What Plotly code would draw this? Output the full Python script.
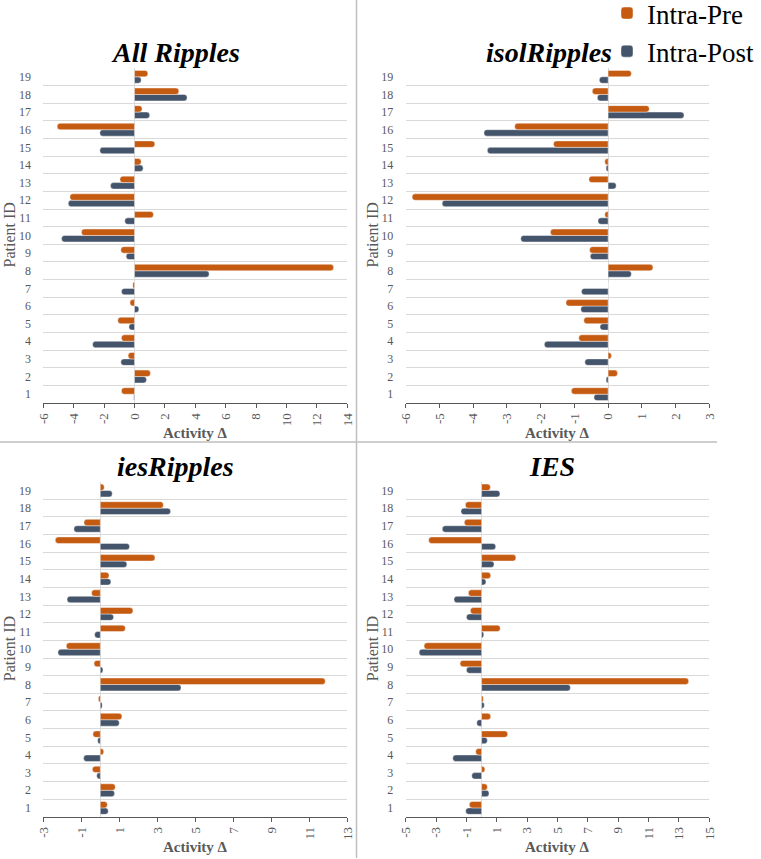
import plotly.graph_objects as go

W, H = 761, 859

patients = list(range(1, 20))

all_pre = [-0.86, 1.05, -0.42, -0.86, -1.10, -0.30, -0.11, 13.10, -0.90, -3.49,
           1.25, -4.25, -0.96, 0.44, 1.34, -5.09, 0.50, 2.92, 0.88]
all_post = [-0.05, 0.79, -0.90, -2.76, -0.37, 0.29, -0.86, 4.91, -0.55, -4.80,
            -0.64, -4.36, -1.58, 0.57, -2.28, -2.28, 1.00, 3.46, 0.44]

isol_pre = [-1.09, 0.28, 0.10, -0.87, -0.72, -1.25, 0.00, 1.33, -0.55, -1.71,
            -0.10, -5.81, -0.57, -0.10, -1.62, -2.77, 1.22, -0.47, 0.69]
isol_post = [-0.42, -0.06, -0.69, -1.89, -0.24, -0.81, -0.79, 0.69, -0.53, -2.59,
             -0.30, -4.92, 0.24, -0.06, -3.58, -3.68, 2.25, -0.32, -0.26]

iesrip_pre = [0.37, 0.79, -0.42, 0.18, -0.39, 1.14, -0.10, 11.84, -0.33, -1.79,
              1.32, 1.72, -0.46, 0.46, 2.88, -2.37, -0.86, 3.32, 0.21]
iesrip_post = [0.42, 0.75, -0.19, -0.88, -0.14, 1.00, 0.10, 4.25, 0.14, -2.23,
               -0.30, 0.70, -1.75, 0.56, 1.40, 1.54, -1.39, 3.70, 0.63]

ies_pre = [-0.81, 0.38, 0.22, -0.39, 1.72, 0.60, 0.11, 13.64, -1.42, -3.79,
           1.23, -0.74, -0.87, 0.60, 2.26, -3.49, -1.14, -1.07, 0.58]
ies_post = [-1.05, 0.49, -0.65, -1.90, 0.38, -0.32, 0.18, 5.85, -1.00, -4.12,
            0.14, -1.00, -1.82, 0.29, 0.82, 0.93, -2.59, -1.36, 1.21]

titles = ["All Ripples", "isolRipples", "iesRipples", "IES"]
series_names = ["Intra-Pre", "Intra-Post"]
x_title = "Activity Δ"
y_title = "Patient ID"

ticks_all = [-6, -4, -2, 0, 2, 4, 6, 8, 10, 12, 14]
ticks_isol = [-6, -5, -4, -3, -2, -1, 0, 1, 2, 3]
ticks_iesrip = [-3, -1, 1, 3, 5, 7, 9, 11, 13]
ticks_ies = [-5, -3, -1, 1, 3, 5, 7, 9, 11, 13, 15]

PRE_COLOR = "#C55A11"
POST_COLOR = "#44546A"
GRAY = "#595959"
FONT = "Liberation Serif, Times New Roman, Times, DejaVu Serif, serif"


def px_x(v):
    return v / W


def px_y(v):
    return 1 - v / H


panels = [
    dict(pre=all_pre, post=all_post, ticks=ticks_all, title=titles[0],
         xd=(43.3, 347.3), yd=(68, 403), tx=175, ty=53, ytx=9),
    dict(pre=isol_pre, post=isol_post, ticks=ticks_isol, title=titles[1],
         xd=(405.7, 709.3), yd=(68, 403), tx=549, ty=53, ytx=372),
    dict(pre=iesrip_pre, post=iesrip_post, ticks=ticks_iesrip, title=titles[2],
         xd=(43.3, 347.3), yd=(481.7, 816.7), tx=175, ty=466, ytx=9),
    dict(pre=ies_pre, post=ies_post, ticks=ticks_ies, title=titles[3],
         xd=(405.7, 709.3), yd=(481.7, 816.7), tx=552, ty=466, ytx=372),
]

fig = go.Figure()
annotations = []
layout_axes = {}

for i, p in enumerate(panels):
    n = "" if i == 0 else str(i + 1)
    xa, ya = "x" + n, "y" + n
    fig.add_trace(go.Bar(
        y=patients, x=p["post"], orientation="h", name=series_names[1],
        marker=dict(color=POST_COLOR, line=dict(color="rgba(255,255,255,0.7)", width=0.6)),
        xaxis=xa, yaxis=ya, showlegend=(i == 0), legendgroup="post"))
    fig.add_trace(go.Bar(
        y=patients, x=p["pre"], orientation="h", name=series_names[0],
        marker=dict(color=PRE_COLOR, line=dict(color="rgba(255,255,255,0.7)", width=0.6)),
        xaxis=xa, yaxis=ya, showlegend=(i == 0), legendgroup="pre"))

    t = p["ticks"]
    layout_axes["xaxis" + n] = dict(
        domain=[px_x(p["xd"][0]), px_x(p["xd"][1])],
        anchor=ya, range=[t[0], t[-1]], automargin=False,
        tickmode="array", tickvals=t, ticktext=[str(v) for v in t],
        tickangle=-90, tickfont=dict(family=FONT, size=13, color=GRAY),
        showline=True, linecolor=GRAY, linewidth=1,
        ticks="outside", ticklen=4, tickcolor=GRAY,
        showgrid=False, zeroline=True, zerolinecolor="#D9D9D9", zerolinewidth=1,
        fixedrange=True,
    )
    layout_axes["yaxis" + n] = dict(
        domain=[px_y(p["yd"][1]), px_y(p["yd"][0])],
        anchor=xa, range=[0.5, 19.5], automargin=False,
        tickmode="array", tickvals=patients, ticktext=[str(v) for v in patients],
        tickfont=dict(family=FONT, size=12, color=GRAY),
        ticks="outside", ticklen=9, tickcolor="rgba(0,0,0,0)",
        showline=False, showgrid=False, zeroline=False,
        minor=dict(tickvals=[k + 0.5 for k in range(1, 20)], showgrid=True,
                   gridcolor="#D9D9D9", gridwidth=1, ticks=""),
        fixedrange=True,
    )
    annotations.append(dict(
        text="<b><i>%s</i></b>" % p["title"], x=px_x(p["tx"]), y=px_y(p["ty"]),
        xref="paper", yref="paper", xanchor="center", yanchor="middle",
        showarrow=False, font=dict(family=FONT, size=28, color="black")))
    annotations.append(dict(
        text="<b>%s</b>" % x_title, x=px_x((p["xd"][0] + p["xd"][1]) / 2),
        y=px_y(p["yd"][1] + 30), xref="paper", yref="paper",
        xanchor="center", yanchor="middle", showarrow=False,
        font=dict(family=FONT, size=15, color=GRAY)))
    annotations.append(dict(
        text=y_title, x=px_x(p["ytx"]), y=px_y((p["yd"][0] + p["yd"][1]) / 2),
        xref="paper", yref="paper", xanchor="center", yanchor="middle",
        textangle=-90, showarrow=False,
        font=dict(family=FONT, size=16, color=GRAY)))

shapes = [
    dict(type="line", xref="paper", yref="paper", x0=px_x(356.5), x1=px_x(356.5),
         y0=px_y(0), y1=px_y(858), line=dict(color="#BFBFBF", width=1.5)),
    dict(type="line", xref="paper", yref="paper", x0=0, x1=px_x(717),
         y0=px_y(442), y1=px_y(442), line=dict(color="#BFBFBF", width=1.5)),
]

fig.update_layout(
    width=W, height=H, margin=dict(l=0, r=0, t=0, b=0, autoexpand=False),
    paper_bgcolor="white", plot_bgcolor="white",
    barmode="group", bargap=0.27, bargroupgap=0, barcornerradius=3,
    font=dict(family=FONT),
    legend=dict(x=px_x(607), y=px_y(-11), xref="paper", yref="paper",
                xanchor="left", yanchor="top",
                traceorder="reversed", font=dict(family=FONT, size=27, color="black"),
                bgcolor="rgba(0,0,0,0)", itemwidth=30, tracegroupgap=0),
    annotations=annotations, shapes=shapes,
    **layout_axes,
)

fig.write_html("out.html", config={"displayModeBar": False},
               post_script="document.body.style.margin='0px';")
